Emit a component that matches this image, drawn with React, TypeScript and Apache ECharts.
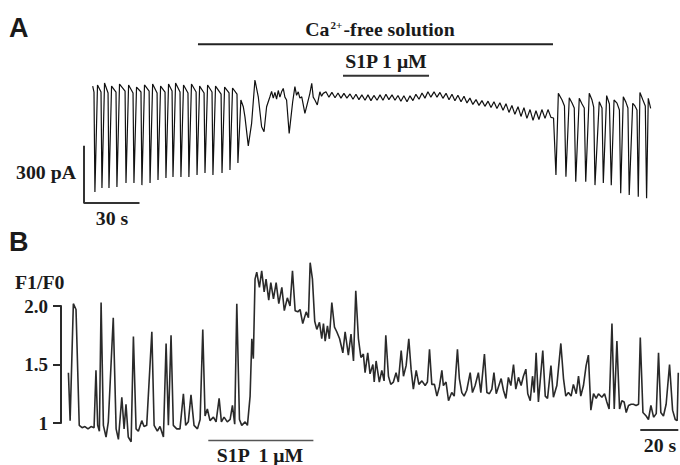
import React, { useEffect, useRef } from "react";
import * as echarts from "echarts";

// ---------- Panel A: whole-cell current (time in s, current in pA) ----------
const oscillationsBefore: [number, number][] = [
  [0.4, 18], [1.1, -13], [1.6, -537], [3.0, 24], [4.9, -13], [5.4, -516], [6.8, 34], [8.7, -18], [9.2, -516],
  [10.6, 18], [13.0, -13], [13.5, -511], [14.9, 29], [17.9, -8], [18.4, -490], [19.8, 24], [22.2, -18], [22.7, -490],
  [24.1, 13], [26.5, -13], [27.0, -501], [28.4, 24], [30.9, -8], [31.4, -490], [32.8, 29], [35.2, -18], [35.7, -474],
  [37.1, 18], [39.5, -13], [40.0, -464], [41.4, 29], [43.3, -8], [43.8, -459], [45.2, 34], [47.6, -13], [48.1, -459],
  [49.5, 24], [51.9, -18], [52.4, -459], [53.8, 29], [56.3, -13], [56.8, -448], [58.2, 18], [60.6, -18], [61.1, -438],
  [62.5, 24], [64.9, -13], [65.4, -448], [66.8, 18], [69.8, -24], [70.3, -438], [71.7, 13], [74.1, -18], [74.6, -422],
  [76.0, 8], [78.4, -24], [78.9, -385],
];
const washout: [number, number][] = [
  [80.5, -55], [81.8, -90], [82.7, -143], [84.5, -295], [86.3, -177], [88.1, 50], [89.9, -38], [91.7, -195],
  [93.0, -221], [94.4, -90], [96.2, -38], [97.1, -10], [98.0, -45], [98.9, -15], [99.8, -50], [100.7, -5],
  [101.6, -40], [102.5, -12], [103.4, 6], [104.3, -40], [105.2, -55], [106.6, -230], [108.5, -64], [109.7, 15],
  [110.6, -30], [111.5, -12], [112.4, -45], [113.4, -38], [115.1, -125], [116.9, -55], [117.8, -20], [118.8, 33],
  [119.6, -40], [120.5, -55], [121.8, -81], [123.2, -12], [124.1, -35], [125.0, -20],
];
const quiescent: [number, number][] = [
  [126.5, -12], [128.1, -40], [129.7, -15], [131.4, -43], [133.0, -18], [134.6, -45], [136.2, -20], [137.8, -45],
  [139.5, -23], [141.1, -51], [142.7, -25], [144.3, -53], [145.9, -28], [147.6, -56], [149.2, -28], [150.8, -58],
  [152.4, -31], [154.1, -56], [155.7, -28], [157.3, -56], [158.9, -25], [160.5, -53], [162.2, -28], [163.8, -56],
  [165.4, -31], [167.0, -61], [168.6, -33], [170.3, -64], [171.9, -33], [173.5, -58], [175.1, -25], [176.8, -51],
  [178.4, -18], [180.0, -45], [181.6, -12], [183.2, -40], [184.9, -12], [186.5, -40], [188.1, -15], [189.7, -46],
  [191.4, -20], [193.0, -54], [194.6, -25], [196.2, -59], [197.8, -30], [199.5, -64], [201.1, -35], [202.7, -70],
  [204.3, -45], [205.9, -78], [207.6, -53], [209.2, -83], [210.8, -58], [212.4, -88], [214.1, -61], [215.7, -94],
  [217.3, -64], [218.9, -99], [220.5, -69], [222.2, -109], [223.8, -74], [225.4, -120], [227.0, -84], [228.6, -130],
  [230.3, -90], [231.9, -141], [233.5, -95], [235.1, -151], [236.8, -105], [238.4, -162], [240.0, -111],
  [241.6, -157], [243.2, -105], [244.9, -151], [246.5, -105], [248.1, -146],
];
const recovery: [number, number][] = [
  [249.5, -149], [250.8, -448], [252.1, -20], [254.1, -55], [255.4, -86], [256.2, -457], [258.0, -43], [259.5, -71],
  [260.7, -97], [261.5, -483], [263.4, -46], [264.9, -76], [266.1, -97], [266.9, -483], [268.8, -20], [270.3, -55],
  [271.2, -92], [271.9, -501], [274.2, -64], [275.7, -97], [276.4, -490], [278.2, -32], [279.7, -76], [280.7, -501],
  [282.2, -55], [283.8, -71], [285.1, -107], [285.8, -544], [287.2, -38], [288.6, -66], [289.7, -97], [290.4, -553],
  [292.3, -72], [293.5, -86], [294.6, -107], [295.3, -562], [296.2, -15], [297.8, -55], [299.1, -86], [299.8, -570],
  [300.7, -46], [302.0, -99],
];
const caFreeBar: [number, number][] = [[57.3, 237], [249.2, 237]];
const s1pBarA: [number, number][] = [[135.7, 72], [182.2, 72]];
const scaleBarA: [number, number][] = [[-4.3, -295], [-4.3, -595], [25.7, -595]];

// ---------- Panel B: Ca2+ fluorescence ratio (time in s, F1/F0) ----------
const timeB = [
  0.2, 1.1, 2.8, 4.2, 5.9, 7.4, 8.9, 10.5, 12.1, 13.7,
  14.7, 15.6, 16.5, 17.4, 18.6, 20.0, 21.2, 23.8, 25.3, 26.5,
  28.3, 29.5, 30.5, 31.7, 33.2, 34.4, 35.8, 37.0, 38.8, 40.0,
  41.4, 44.1, 45.3, 47.0, 48.4, 50.2, 51.6, 52.8, 54.2, 55.4,
  57.2, 58.9, 60.7, 61.9, 63.3, 64.7, 66.3, 68.1, 69.5, 70.9,
  72.1, 73.3, 74.7, 76.5, 77.9, 79.5, 80.7, 82.1, 83.8, 85.3,
  86.5, 87.7, 88.8, 90.2, 91.4, 93.2, 94.4, 95.8, 96.7, 97.5,
  98.4, 99.3, 100.7, 101.9, 103.2, 104.2, 105.6, 106.7, 108.1, 109.5,
  110.9, 112.5, 113.8, 115.4, 116.8, 118.1, 119.5, 120.9, 122.1, 123.5,
  125.3, 126.5, 127.4, 128.6, 129.8, 130.9, 132.3, 133.5, 134.4, 135.3,
  136.5, 137.5, 138.8, 140.2, 141.4, 142.9, 144.6, 145.8, 147.5, 148.9,
  150.2, 151.4, 152.8, 154.1, 155.4, 156.3, 157.7, 158.9, 160.4, 161.1,
  162.1, 163.8, 165.1, 166.3, 167.2, 168.6, 169.8, 171.2, 172.6, 173.8,
  175.3, 176.5, 177.9, 179.3, 180.5, 181.7, 183.2, 184.6, 186.2, 187.9,
  189.1, 190.2, 191.4, 192.8, 194.1, 195.4, 196.7, 197.5, 198.9, 200.2,
  201.9, 203.2, 204.9, 205.9, 207.2, 208.4, 209.8, 211.6, 212.8, 214.2,
  215.9, 217.2, 219.1, 220.4, 221.7, 223.0, 224.1, 225.3, 226.5, 227.9,
  229.1, 230.4, 231.7, 233.0, 234.4, 235.6, 237.0, 238.4, 239.6, 240.9,
  241.9, 243.2, 244.4, 245.3, 246.3, 247.5, 248.4, 249.8, 251.1, 252.3,
  254.1, 255.4, 257.2, 259.3, 260.7, 261.9, 263.3, 264.7, 265.9, 267.4,
  268.6, 269.8, 271.2, 272.6, 273.8, 275.1, 276.5, 277.9, 279.1, 280.9,
  282.3, 283.5, 284.7, 286.2, 287.4, 288.8, 290.2, 291.4, 292.6, 293.7,
  294.9, 296.3, 297.5, 298.9, 300.2, 301.1, 302.5, 304.2, 305.4, 306.7,
  308.1, 309.5, 310.7, 311.9, 313.3, 314.7, 316.5, 318.1, 319.5, 320.5,
  321.1,
];
const ratioB = [
  1.43, 1.02, 2.02, 1.97, 0.98, 0.96, 0.97, 0.95, 0.97, 0.96,
  1.45, 0.98, 0.93, 2.03, 0.98, 0.88, 1.01, 1.90, 0.95, 0.86,
  1.22, 0.95, 1.16, 0.88, 0.84, 1.74, 0.95, 0.93, 1.02, 0.97,
  0.98, 1.78, 0.98, 0.93, 0.97, 0.88, 1.68, 0.98, 1.75, 0.98,
  0.95, 0.95, 1.25, 0.98, 1.01, 1.24, 0.98, 0.95, 1.03, 1.80,
  1.06, 1.12, 1.02, 1.05, 1.01, 1.21, 1.01, 1.05, 1.01, 1.03,
  1.15, 0.99, 2.02, 1.03, 0.98, 1.01, 0.98, 1.23, 1.72, 1.55,
  2.23, 2.29, 2.16, 2.30, 2.12, 2.23, 2.05, 2.20, 2.06, 2.20,
  2.02, 2.16, 1.96, 2.07, 2.00, 2.30, 1.96, 1.95, 1.97, 1.85,
  1.95, 1.90, 2.37, 2.23, 1.87, 1.80, 1.86, 1.72, 1.85, 1.70,
  1.83, 1.72, 2.03, 1.82, 1.78, 1.72, 1.60, 1.78, 1.58, 1.76,
  1.53, 2.13, 1.72, 1.56, 1.59, 1.43, 1.60, 1.42, 1.50, 1.35,
  1.53, 1.35, 1.45, 1.36, 1.75, 1.40, 1.33, 1.35, 1.43, 1.35,
  1.62, 1.40, 1.49, 1.72, 1.46, 1.29, 1.45, 1.33, 1.36, 1.32,
  1.35, 1.63, 1.33, 1.33, 1.23, 1.31, 1.45, 1.32, 1.35, 1.19,
  1.26, 1.23, 1.63, 1.38, 1.26, 1.23, 1.28, 1.43, 1.26, 1.32,
  1.43, 1.26, 1.59, 1.26, 1.25, 1.29, 1.43, 1.25, 1.31, 1.38,
  1.28, 1.21, 1.39, 1.32, 1.50, 1.29, 1.39, 1.32, 1.40, 1.46,
  1.25, 1.19, 1.40, 1.26, 1.60, 1.18, 1.35, 1.62, 1.23, 1.21,
  1.49, 1.22, 1.32, 1.68, 1.38, 1.23, 1.26, 1.23, 1.33, 1.25,
  1.40, 1.23, 1.32, 1.49, 1.58, 1.11, 1.25, 1.21, 1.25, 1.22,
  1.25, 1.18, 1.12, 1.85, 1.12, 1.70, 1.12, 1.19, 1.18, 1.09,
  1.15, 1.16, 1.16, 1.15, 1.16, 1.73, 1.09, 1.06, 1.03, 1.15,
  1.05, 1.08, 1.60, 1.09, 1.06, 1.16, 1.50, 1.11, 1.03, 1.02,
  1.43,
];
const s1pBarB: [number, number][] = [[73.8, 0.85], [129.1, 0.85]];
const timeBarB: [number, number][] = [[301.1, 0.94], [321.1, 0.94]];
const ratioTicks = [1, 1.5, 2];
const axisStartB = -3.7;

const SERIF = '"Liberation Serif", "Times New Roman", serif';
const SANS = '"Liberation Sans", Arial, sans-serif';
const INK = "#1a1a1a";

function lineSeries(data: [number, number][], axis: number, width: number, color: string) {
  return {
    type: "line",
    xAxisIndex: axis,
    yAxisIndex: axis,
    data,
    symbol: "none",
    showSymbol: false,
    clip: false,
    silent: true,
    lineStyle: { color, width },
    emphasis: { disabled: true },
  };
}

function label(text: string, x: number, y: number, size: number, align: string, opts: any = {}) {
  return {
    type: "text",
    x,
    y,
    scaleX: opts.scaleX ?? 1.1,
    silent: true,
    style: {
      text,
      font: `bold ${size}px ${opts.family ?? SERIF}`,
      fill: INK,
      align,
      verticalAlign: "middle",
      ...(opts.rich ? { rich: opts.rich } : {}),
    },
  };
}

export default function App() {
  const ref = useRef<HTMLDivElement>(null);
  useEffect(() => {
    if (!ref.current) return;
    const chart = echarts.init(ref.current, null, { renderer: "svg" });
    const traceA = [...oscillationsBefore, ...washout, ...quiescent, ...recovery];
    const traceB: [number, number][] = timeB.map((t, i) => [t, ratioB[i]]);
    const axisLineB: [number, number][] = [
      [axisStartB, ratioTicks[ratioTicks.length - 1]],
      [axisStartB, ratioTicks[0]],
    ];
    const option: any = {
      animation: false,
      backgroundColor: "#ffffff",
      grid: [
        { left: 84, top: 80, width: 570, height: 124 },
        { left: 61, top: 306, width: 619, height: 117 },
      ],
      xAxis: [
        { gridIndex: 0, type: "value", min: -4.3, max: 303.8, show: false },
        { gridIndex: 1, type: "value", min: axisStartB, max: 322, show: false },
      ],
      yAxis: [
        { gridIndex: 0, type: "value", min: -600, max: 50, show: false },
        {
          gridIndex: 1,
          type: "value",
          min: ratioTicks[0],
          max: ratioTicks[ratioTicks.length - 1],
          interval: 0.5,
          axisLine: { show: true, onZero: false, lineStyle: { color: "#2a2a2a", width: 2 } },
          axisTick: { show: true, inside: false, length: 8, lineStyle: { color: "#2a2a2a", width: 2 } },
          splitLine: { show: false },
          axisLabel: {
            show: true,
            margin: 13,
            color: INK,
            fontFamily: SERIF,
            fontWeight: "bold",
            fontSize: 19,
            formatter: (v: number) => (v === 1 ? "1" : v.toFixed(1)),
          },
        },
      ],
      series: [
        lineSeries(traceA, 0, 1.2, "#111"),
        lineSeries(caFreeBar, 0, 2, "#222"),
        lineSeries(s1pBarA, 0, 2, "#333"),
        lineSeries(scaleBarA, 0, 2, "#333"),
        lineSeries(traceB, 1, 1.6, "#2a2a2a"),
        lineSeries(s1pBarB, 1, 1.5, "#555"),
        lineSeries(timeBarB, 1, 2, "#333"),
        { ...lineSeries(axisLineB, 1, 2, "#2a2a2a"), z: 10 },
      ],
      graphic: [
        label("A", 9, 28, 27, "left", { family: SANS, scaleX: 1 }),
        label("B", 9, 242, 27, "left", { family: SANS, scaleX: 1 }),
        label("{n|Ca}{s|2+}{n|-free solution}", 380, 30, 18, "center", {
          rich: {
            n: { fontFamily: SERIF, fontWeight: "bold", fontSize: 18, fill: INK },
            s: { fontFamily: SERIF, fontWeight: "bold", fontSize: 10, fill: INK, verticalAlign: "top", padding: [0, 1, 8, 1] },
          },
        }),
        label("S1P 1 \u03bcM", 386, 62, 18, "center"),
        label("300 pA", 76, 173, 18, "right"),
        label("30 s", 112, 219, 18, "center"),
        label("F1/F0", 15, 283, 18, "left"),
        label("S1P  1 \u03bcM", 260, 456, 18, "center"),
        label("20 s", 660, 446, 18, "center"),
      ],
    };
    chart.setOption(option);
    return () => chart.dispose();
  }, []);
  return (
    <div
      ref={ref}
      style={{ position: "fixed", left: 0, top: 0, width: 680, height: 465, background: "#fff" }}
    />
  );
}
